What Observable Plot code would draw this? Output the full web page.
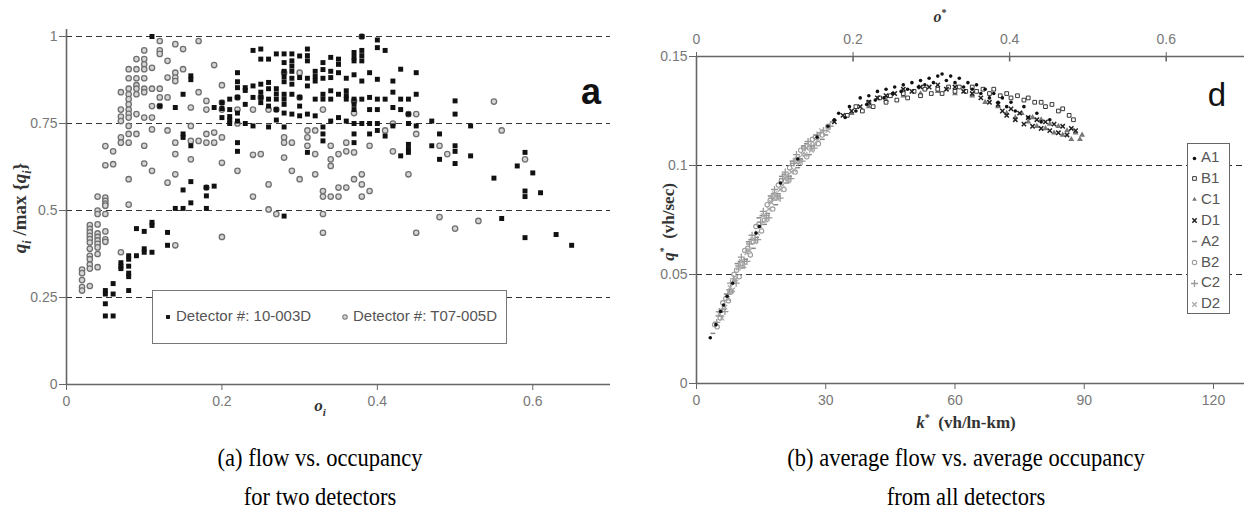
<!DOCTYPE html>
<html>
<head>
<meta charset="utf-8">
<script src="https://cdn.jsdelivr.net/npm/d3@7"></script>
<script src="https://cdn.jsdelivr.net/npm/@observablehq/plot@0.6"></script>
<style>
  body { margin: 0; background: #fff; }
  #root { position: relative; width: 1248px; height: 527px; overflow: hidden; background: #fff;
          font-family: "Liberation Sans", Arial, sans-serif; }
  .abs { position: absolute; white-space: nowrap; }
  .serif { font-family: "Liberation Serif", "Times New Roman", serif; }
  .cap { font-family: "Liberation Serif", "Times New Roman", serif; font-size: 25px; color: #000;
         text-align: center; width: 600px; }
  .panel-tag { font-family: "Liberation Sans", Arial, sans-serif; color: #111; }
  .legendA { background: #fff; border: 1.5px solid #777; box-sizing: border-box;
             font-size: 15px; color: #555; }
  .legendD { background: #fff; border: 1.5px solid #666; box-sizing: border-box;
             font-size: 15px; color: #555; }
  .legendD .row { position: absolute; left: 2px; height: 20px; line-height: 20px; }
  .legendD svg, .legendA svg { vertical-align: middle; }
</style>
</head>
<body>
<div id="root"></div>
<script>
// ---------- panel (a): flow vs. occupancy, two detectors ----------
// each entry: [occupancy o_i, [normalised flows q_i / max q_i observed at that occupancy]]
const detector10_003D = [
  [0.05, [0.27, 0.26, 0.232, 0.197]],
  [0.06, [0.29, 0.26, 0.197]],
  [0.07, [0.35, 0.34, 0.333]],
  [0.08, [0.37, 0.36, 0.34, 0.32, 0.31, 0.27]],
  [0.09, [0.448, 0.37]],
  [0.10, [0.44, 0.39, 0.38]],
  [0.11, [1.0, 0.466, 0.457, 0.38]],
  [0.12, [0.80]],
  [0.13, [0.437, 0.40]],
  [0.14, [0.796, 0.506]],
  [0.15, [0.834, 0.72, 0.71, 0.559, 0.506]],
  [0.16, [0.887, 0.876, 0.686, 0.583, 0.522]],
  [0.18, [0.566, 0.542, 0.506]],
  [0.19, [0.796, 0.57]],
  [0.20, [0.81, 0.793, 0.767]],
  [0.21, [0.82, 0.79, 0.77, 0.76, 0.75]],
  [0.22, [0.896, 0.87, 0.853, 0.825, 0.78, 0.757, 0.695, 0.67]],
  [0.23, [0.853, 0.845, 0.805, 0.75]],
  [0.24, [0.96, 0.858, 0.825, 0.743]],
  [0.25, [0.964, 0.935, 0.863, 0.84, 0.825, 0.81]],
  [0.26, [0.935, 0.868, 0.85, 0.82, 0.80, 0.74]],
  [0.27, [0.95, 0.85, 0.835, 0.82, 0.79, 0.76]],
  [0.28, [0.95, 0.925, 0.9, 0.885, 0.87, 0.834, 0.82, 0.805, 0.78, 0.74, 0.484]],
  [0.29, [0.95, 0.93, 0.915, 0.9, 0.88, 0.863, 0.834, 0.777]],
  [0.30, [0.944, 0.882, 0.825, 0.80, 0.772]],
  [0.31, [0.964, 0.945, 0.93, 0.88, 0.858, 0.777, 0.667]],
  [0.32, [0.9, 0.885, 0.872, 0.82, 0.772]],
  [0.33, [0.925, 0.905, 0.88, 0.834, 0.82, 0.74, 0.72, 0.70]],
  [0.34, [0.94, 0.9, 0.882, 0.844, 0.82, 0.757]],
  [0.35, [0.935, 0.92, 0.896, 0.834, 0.767]],
  [0.36, [0.88, 0.844, 0.83, 0.82, 0.757]],
  [0.37, [0.954, 0.94, 0.93, 0.89, 0.82, 0.805, 0.79, 0.75, 0.72, 0.695]],
  [0.38, [1.0, 0.96, 0.945, 0.93, 0.872, 0.82, 0.75]],
  [0.39, [0.896, 0.825, 0.79, 0.75, 0.72]],
  [0.40, [0.99, 0.968, 0.877, 0.82, 0.79, 0.75, 0.73]],
  [0.41, [0.96, 0.82, 0.714]],
  [0.42, [0.872, 0.84, 0.796, 0.743]],
  [0.43, [0.906, 0.82, 0.79, 0.657]],
  [0.44, [0.82, 0.777, 0.75, 0.69, 0.677, 0.667]],
  [0.45, [0.896, 0.834, 0.743]],
  [0.47, [0.757, 0.686]],
  [0.48, [0.72, 0.647]],
  [0.50, [0.815, 0.777, 0.686, 0.67, 0.635]],
  [0.52, [0.743, 0.657]],
  [0.55, [0.593]],
  [0.56, [0.477]],
  [0.58, [0.628]],
  [0.59, [0.667, 0.556, 0.54, 0.422]],
  [0.60, [0.608]],
  [0.61, [0.551]],
  [0.63, [0.431]],
  [0.65, [0.40]]
];

const detectorT07_005D = [
  [0.02, [0.33, 0.32, 0.30, 0.28, 0.27]],
  [0.03, [0.458, 0.447, 0.437, 0.427, 0.418, 0.408, 0.39, 0.37, 0.36, 0.345, 0.333, 0.283]],
  [0.04, [0.54, 0.50, 0.49, 0.46, 0.434, 0.424, 0.414, 0.404, 0.394, 0.375, 0.337]],
  [0.05, [0.685, 0.63, 0.537, 0.528, 0.52, 0.514, 0.49, 0.44, 0.417, 0.41]],
  [0.06, [0.67, 0.633]],
  [0.07, [0.84, 0.79, 0.77, 0.757, 0.71, 0.695, 0.38]],
  [0.08, [0.906, 0.88, 0.85, 0.834, 0.82, 0.805, 0.79, 0.778, 0.767, 0.743, 0.72, 0.695, 0.59, 0.517]],
  [0.09, [0.935, 0.906, 0.88, 0.86, 0.85, 0.834, 0.777, 0.72]],
  [0.10, [0.96, 0.935, 0.92, 0.906, 0.88, 0.85, 0.84, 0.767, 0.686, 0.635]],
  [0.11, [0.91, 0.85, 0.80, 0.767, 0.733, 0.614]],
  [0.12, [0.987, 0.96, 0.95, 0.85, 0.825, 0.80]],
  [0.13, [0.93, 0.882, 0.825, 0.73, 0.58]],
  [0.14, [0.978, 0.896, 0.882, 0.872, 0.695, 0.662, 0.604, 0.40]],
  [0.15, [0.964, 0.906]],
  [0.16, [0.796, 0.743, 0.70, 0.647]],
  [0.17, [0.987, 0.84, 0.70]],
  [0.18, [0.815, 0.79, 0.72, 0.695, 0.566]],
  [0.19, [0.918, 0.724, 0.695]],
  [0.20, [0.86, 0.81, 0.79, 0.71, 0.637, 0.424]],
  [0.22, [0.825, 0.79, 0.75, 0.614]],
  [0.24, [0.79, 0.66, 0.54]],
  [0.25, [0.825, 0.662]],
  [0.26, [0.79, 0.575, 0.503]],
  [0.27, [0.79, 0.49]],
  [0.28, [0.896, 0.71, 0.695, 0.652]],
  [0.29, [0.695, 0.614]],
  [0.30, [0.896, 0.825, 0.59]],
  [0.31, [0.73, 0.71, 0.686]],
  [0.32, [0.73, 0.662, 0.604]],
  [0.33, [0.79, 0.556, 0.54, 0.49, 0.436]],
  [0.34, [0.686, 0.647, 0.628, 0.54]],
  [0.35, [0.662, 0.566, 0.54]],
  [0.36, [0.695, 0.67, 0.566]],
  [0.37, [0.815, 0.78, 0.667, 0.59]],
  [0.38, [1.0, 0.604, 0.575, 0.54]],
  [0.39, [0.686, 0.556]],
  [0.41, [0.73]],
  [0.42, [0.75, 0.67]],
  [0.44, [0.777, 0.604]],
  [0.45, [0.777, 0.72, 0.436]],
  [0.48, [0.686, 0.481]],
  [0.49, [0.662]],
  [0.50, [0.448]],
  [0.53, [0.47]],
  [0.55, [0.813]],
  [0.56, [0.73]],
  [0.59, [0.647]]
];

const detectorLabels = ["Detector #: 10-003D", "Detector #: T07-005D"];
const occTicksA = [0, 0.2, 0.4, 0.6];
const ratioTicksA = [0, 0.25, 0.5, 0.75, 1];
const ratioGridA = [0.25, 0.5, 0.75, 1];

// ---------- panel (d): average flow vs. average density, all detectors ----------
// [k (vh/ln-km), q (vh/sec)]
const A1 = [[3.2,0.021],[4.5,0.027],[5.6,0.033],[6.3,0.036],[7.1,0.040],[8.4,0.046],[13.8,0.069],[14.6,0.072],
  [19.5,0.092],[23.5,0.103],[28.0,0.113],[30.5,0.118],[32.0,0.121],
  [33,0.124],[34.5,0.122],[35.5,0.127],[37,0.125],[38,0.131],[39.5,0.128],[40,0.132],[41.5,0.130],[42,0.134],
  [43.5,0.131],[44,0.135],[45.5,0.133],[46,0.136],[47.5,0.134],[48,0.137],[49,0.135],[50,0.138],[51.5,0.136],
  [52,0.139],[53,0.137],[54,0.140],[55,0.138],[56,0.141],[57,0.142],[58,0.139],[59,0.141],[60,0.138],[61,0.140],
  [62,0.136],[63,0.138],[64,0.135],[65,0.137],[66,0.133],[67,0.135],[68,0.131],[69,0.133],[70,0.129],[71,0.131],
  [72,0.127],[73,0.129],[74,0.125],[76,0.127],[77,0.122],[79,0.124],[80,0.120],[82,0.121]];
const B1 = [[35,0.123],[37,0.127],[38.5,0.125],[40,0.129],[41,0.127],[42.5,0.131],[44,0.129],[45,0.132],
  [46.5,0.130],[48,0.133],[49,0.131],[50.5,0.134],[52,0.132],[53,0.135],[54.5,0.133],[56,0.135],[57,0.133],
  [58.5,0.136],[60,0.134],[61,0.136],[62.5,0.134],[64,0.136],[65,0.134],[66.5,0.135],[68,0.133],[69,0.135],
  [70.5,0.132],[72,0.133],[73,0.131],[74.5,0.132],[76,0.130],[77,0.131],[78.5,0.129],[80,0.129],[81,0.127],
  [82.5,0.128],[84,0.125],[85,0.126],[86.5,0.123],[87.5,0.121]];
const C1 = [[36,0.124],[40,0.127],[44,0.130],[48,0.132],[52,0.133],[56,0.134],[60,0.133],[64,0.132],[67,0.129],
  [70,0.127],[72,0.124],[74,0.122],[75.5,0.124],[77,0.120],[78,0.122],[79,0.118],[80,0.121],[81,0.117],[82,0.119],
  [83,0.115],[84,0.118],[85,0.114],[86,0.116],[87,0.112],[88,0.115],[89,0.112],[89.5,0.114]];
const D1 = [[32,0.120],[34,0.123],[36,0.125],[38,0.127],[40,0.129],[42,0.131],[44,0.132],[46,0.133],[48,0.135],
  [50,0.134],[52,0.136],[54,0.136],[56,0.137],[58,0.135],[60,0.136],[62,0.134],[64,0.133],[66,0.131],[68,0.129],
  [70,0.128],[71,0.125],[72,0.123],[73,0.126],[74,0.121],[75,0.124],[76,0.119],[77,0.122],[78,0.118],[79,0.121],
  [80,0.117],[81,0.120],[82,0.116],[83,0.119],[84,0.115],[85,0.118],[86,0.114],[87,0.117],[88,0.116]];
const A2 = [[3.8,0.023],[4.4,0.028],[5.0,0.031],[5.7,0.031],[6.2,0.034],[6.9,0.041],[7.5,0.043],[8.1,0.042],
  [8.8,0.047],[9.4,0.055],[10.1,0.056],[10.7,0.053],[11.4,0.057],[12.0,0.065],[12.6,0.066],[13.2,0.062],
  [13.9,0.067],[14.5,0.076],[15.2,0.077],[15.8,0.073],[16.5,0.078],[17.1,0.086],[17.8,0.087],[18.4,0.082],
  [19.0,0.087],[19.7,0.095],[20.3,0.096],[21.0,0.092],[21.6,0.095],[22.2,0.102],[22.9,0.103],[23.5,0.099],
  [24.2,0.103],[24.8,0.109],[25.5,0.110],[26.2,0.105],[27.0,0.109],[27.7,0.114],[28.5,0.115],[29.2,0.112],
  [30.0,0.114],[31.5,0.120]];
const B2 = [[4.2,0.027],[4.8,0.026],[5.5,0.030],[6.1,0.037],[6.8,0.039],[7.4,0.038],[8.0,0.042],[8.7,0.050],
  [9.3,0.052],[9.9,0.049],[10.6,0.055],[11.2,0.061],[11.9,0.062],[12.5,0.059],[13.2,0.065],[13.8,0.072],
  [14.5,0.073],[15.1,0.070],[15.8,0.075],[16.4,0.082],[17.1,0.084],[17.7,0.080],[18.4,0.085],[19.0,0.091],
  [19.7,0.093],[20.3,0.089],[21.0,0.094],[21.6,0.099],[22.3,0.101],[22.9,0.097],[23.6,0.102],[24.2,0.107],
  [24.9,0.108],[25.6,0.104],[26.2,0.108],[26.9,0.112],[27.6,0.113],[28.3,0.110],[29.2,0.114],[30.5,0.118]];
const C2 = [[4.7,0.028],[5.3,0.033],[6.0,0.034],[6.6,0.033],[7.3,0.041],[7.9,0.046],[8.6,0.048],[9.2,0.046],
  [9.8,0.054],[10.4,0.058],[11.1,0.056],[11.7,0.056],[12.3,0.064],[12.9,0.068],[13.6,0.066],[14.2,0.066],
  [14.9,0.074],[15.5,0.079],[16.2,0.077],[16.8,0.076],[17.5,0.085],[18.1,0.089],[18.8,0.086],[19.4,0.085],
  [20.0,0.094],[20.6,0.097],[21.3,0.095],[21.9,0.094],[22.6,0.101],[23.2,0.105],[23.9,0.103],[24.5,0.102],
  [25.2,0.108],[25.9,0.111],[26.6,0.109],[27.3,0.108],[28.0,0.114],[29.5,0.116],[31.0,0.118]];
const D2 = [[5.3,0.032],[5.9,0.030],[6.6,0.035],[7.2,0.039],[7.8,0.044],[8.4,0.043],[9.1,0.048],[9.7,0.053],
  [10.4,0.056],[11.0,0.054],[11.7,0.060],[12.3,0.061],[13.0,0.066],[13.6,0.065],[14.2,0.069],[14.8,0.072],
  [15.5,0.077],[16.1,0.075],[16.8,0.080],[17.4,0.083],[18.1,0.087],[18.7,0.085],[19.4,0.089],[20.0,0.091],
  [20.7,0.095],[21.3,0.093],[22.0,0.097],[22.6,0.098],[23.3,0.103],[23.9,0.101],[24.6,0.105],[25.2,0.105],
  [26.0,0.109],[26.7,0.107],[27.4,0.110],[28.2,0.112],[29.0,0.116],[30.5,0.116]];

const seriesNames = ["A1", "B1", "C1", "D1", "A2", "B2", "C2", "D2"];
const seriesData = [A1, B1, C1, D1, A2, B2, C2, D2];
const densityTicksD = [0, 30, 60, 90, 120];
const occTicksD = [0, 0.2, 0.4, 0.6];
const flowTicksD = [0, 0.05, 0.1, 0.15];
const flowGridD = [0.05, 0.1];
const densityMax = 127.2;       // density at the right frame edge
const occMax = 0.7;             // the same edge on the occupancy scale
const kPerOcc = densityMax / occMax;

// ---------- helpers ----------
const flatten = cols => cols.flatMap(([o, qs]) => qs.map(q => ({o, q})));
const axisGray = "#666";
const labelGray = "#777";
const baseStyle = {fontFamily: "'Liberation Sans', Arial, sans-serif", fontSize: "14px", background: "transparent", color: labelGray};

// short horizontal stroke used for series A2
const dashSymbol = {draw(ctx, size) { const r = Math.sqrt(size / Math.PI) * 1.1; ctx.moveTo(-r, 0); ctx.lineTo(r, 0); }};

const seriesStyle = {
  A1: {symbol: "circle", r: 1.8, fill: "#111", stroke: "none"},
  B1: {symbol: "square", r: 2.1, fill: "#fff", stroke: "#222", strokeWidth: 0.9},
  C1: {symbol: "triangle", r: 2.2, fill: "#777", stroke: "none"},
  D1: {symbol: "times", r: 2.1, fill: "none", stroke: "#222", strokeWidth: 1.5},
  A2: {symbol: dashSymbol, r: 2.2, fill: "none", stroke: "#888", strokeWidth: 1.5},
  B2: {symbol: "circle", r: 2.2, fill: "none", stroke: "#999", strokeWidth: 1.1},
  C2: {symbol: "plus", r: 2.4, fill: "none", stroke: "#999", strokeWidth: 1.3},
  D2: {symbol: "times", r: 2.2, fill: "none", stroke: "#aaa", strokeWidth: 1.3}
};

const root = document.getElementById("root");
function place(el, left, top) { el.style.position = "absolute"; el.style.left = left + "px"; el.style.top = top + "px"; root.appendChild(el); }
function div(cls, html, left, top, extra) {
  const d = document.createElement("div");
  d.className = "abs " + (cls || "");
  d.innerHTML = html;
  d.style.left = left + "px"; d.style.top = top + "px";
  if (extra) Object.assign(d.style, extra);
  root.appendChild(d);
  return d;
}

// ---------- panel (a) ----------
const plotA = Plot.plot({
  width: 625, height: 430,
  marginLeft: 66, marginRight: 15, marginTop: 36, marginBottom: 46,
  style: baseStyle,
  x: {domain: [0, 0.7]},
  y: {domain: [0, 1]},
  marks: [
    Plot.ruleY(ratioGridA, {stroke: "#333", strokeWidth: 1, strokeDasharray: "6,4"}),
    Plot.ruleX([0], {y1: 0, y2: 1.02, stroke: axisGray, strokeWidth: 1.6}),
    Plot.ruleY([0], {stroke: axisGray, strokeWidth: 1.6}),
    Plot.axisY({ticks: ratioTicksA, tickSize: 7, tickPadding: 2, stroke: axisGray, fill: labelGray, label: null,
                tickFormat: d => String(d)}),
    Plot.axisX({ticks: occTicksA, tickSize: 6, tickPadding: 6, stroke: axisGray, fill: labelGray, label: null,
                tickFormat: d => String(d)}),
    Plot.dot(flatten(detectorT07_005D), {x: "o", y: "q", symbol: "circle", r: 2.7,
             fill: "#d6d6d6", stroke: "#707070", strokeWidth: 1.3}),
    Plot.dot(flatten(detector10_003D), {x: "o", y: "q", symbol: "square", r: 2.8, fill: "#111", stroke: "none"})
  ]
});
place(plotA, 0, 0);

// ---------- panel (d) ----------
const densityDots = seriesNames.map((name, i) => {
  const s = seriesStyle[name];
  return Plot.dot(seriesData[i], {x: d => d[0], y: d => d[1], ...s});
});
// draw the grey free-flow series first so the dark congested points sit on top
const drawOrder = [4, 5, 6, 7, 2, 1, 3, 0];

const plotD = Plot.plot({
  width: 628, height: 430,
  marginLeft: 76, marginRight: 4, marginTop: 56, marginBottom: 47,
  style: baseStyle,
  x: {domain: [0, densityMax]},
  y: {domain: [0, 0.15]},
  marks: [
    Plot.ruleY(flowGridD, {stroke: "#333", strokeWidth: 1, strokeDasharray: "6,4"}),
    Plot.ruleX([0], {stroke: axisGray, strokeWidth: 1.6}),
    Plot.ruleY([0, 0.15], {stroke: axisGray, strokeWidth: 1.6}),
    Plot.axisY({ticks: flowTicksD, tickSize: 7, tickPadding: 2, stroke: axisGray, fill: labelGray, label: null,
                tickFormat: d => String(d)}),
    Plot.axisX({ticks: densityTicksD, tickSize: 6, tickPadding: 6, stroke: axisGray, fill: labelGray, label: null,
                tickFormat: d => String(d)}),
    Plot.axisX({anchor: "top", ticks: occTicksD.map(o => o * kPerOcc), tickSize: 5, tickPadding: 8,
                stroke: axisGray, fill: labelGray, label: null,
                tickFormat: k => String(+(k / kPerOcc).toFixed(2))}),
    Plot.ruleX(occTicksD.slice(1).map(o => o * kPerOcc), {y1: 0.15, y2: 0.1475, stroke: axisGray, strokeWidth: 1.6}),
    ...drawOrder.map(i => densityDots[i])
  ]
});
place(plotD, 620, 0);

// ---------- axis titles ----------
div("serif", "<b><i>q<sub style='font-size:12px'>i</sub></i> /max {<i>q<sub style='font-size:12px'>i</sub></i>}</b>", 22, 208,
    {fontSize: "19px", color: "#333", transform: "translate(-50%,-50%) rotate(-90deg)"});
div("serif", "<b><i>o<sub style='font-size:11px'>i</sub></i></b>", 320, 407,
    {fontSize: "17px", color: "#333", transform: "translate(-50%,-50%)"});
div("serif", "<b><i>q</i><sup style='font-size:10px'>*</sup> &nbsp;(vh/sec)</b>", 668, 222,
    {fontSize: "17px", color: "#333", transform: "translate(-50%,-50%) rotate(-90deg)"});
div("serif", "<b><i>k</i><sup style='font-size:10px'>*</sup> &nbsp;(vh/ln-km)</b>", 966, 422,
    {fontSize: "17px", color: "#333", transform: "translate(-50%,-50%)"});
div("serif", "<b><i>o</i><sup style='font-size:10px'>*</sup></b>", 940, 17,
    {fontSize: "16px", color: "#333", transform: "translate(-50%,-50%)"});

// ---------- panel tags ----------
div("panel-tag", "a", 591, 92, {fontSize: "36px", fontWeight: "bold", transform: "translate(-50%,-50%)"});
div("panel-tag", "d", 1217, 95, {fontSize: "33px", transform: "translate(-50%,-50%)"});

// ---------- legend of panel (a) ----------
function symbolSvg(type, r, style, w) {
  const size = w || 10;
  const path = d3.symbol().type(type).size(Math.PI * r * r)();
  return `<svg width="${size}" height="${size}" viewBox="${-size/2} ${-size/2} ${size} ${size}"><path d="${path}" ` +
    `fill="${style.fill}" stroke="${style.stroke}" stroke-width="${style.strokeWidth || 1}"/></svg>`;
}
const legA = div("legendA", "", 152, 290, {width: "355px", height: "54px"});
legA.innerHTML =
  `<div class="abs" style="left:10px;top:16px">${symbolSvg(d3.symbolSquare, 2.2, {fill: "#111", stroke: "none"})}` +
  `<span style="margin-left:3px">${detectorLabels[0]}</span></div>` +
  `<div class="abs" style="left:187px;top:16px">${symbolSvg(d3.symbolCircle, 2.2, {fill: "#d6d6d6", stroke: "#777", strokeWidth: 1.1})}` +
  `<span style="margin-left:3px">${detectorLabels[1]}</span></div>`;

// ---------- legend of panel (d) ----------
const d3Sym = {circle: d3.symbolCircle, square: d3.symbolSquare, triangle: d3.symbolTriangle2,
               times: d3.symbolTimes, plus: d3.symbolPlus};
const legD = div("legendD", "", 1187, 143, {width: "43px", height: "171px"});
seriesNames.forEach((name, i) => {
  const s = seriesStyle[name];
  const type = typeof s.symbol === "string" ? d3Sym[s.symbol] : s.symbol;
  const row = document.createElement("div");
  row.className = "row";
  row.style.top = (3 + i * 20.9) + "px";
  row.innerHTML = symbolSvg(type, s.r, s, 9) + `<span style="margin-left:2px">${name}</span>`;
  legD.appendChild(row);
});

// ---------- captions ----------
const capStyle = {transform: "translate(-50%,-50%) scaleX(0.9)"};
div("cap", "(a) flow vs. occupancy", 320, 458, capStyle);
div("cap", "for two detectors", 320, 497, capStyle);
div("cap", "(b) average flow vs. average occupancy", 966, 458, capStyle);
div("cap", "from all detectors", 966, 497, capStyle);
</script>
</body>
</html>
